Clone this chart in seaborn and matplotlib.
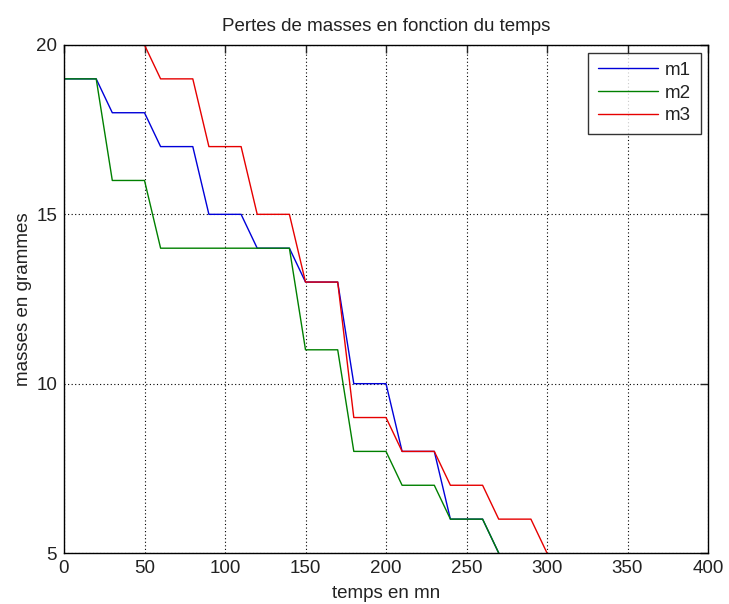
import numpy as np
import pandas as pd
import matplotlib
matplotlib.use("Agg")
import matplotlib.pyplot as plt
import seaborn as sns

# Data (time in minutes, mass in grams)
t_m1 = [0, 10, 20, 30, 40, 50, 60, 70, 80, 90, 100, 110, 120, 130, 140, 150, 160, 170, 180, 190, 200, 210, 220, 230, 240, 250, 260, 270]
m1 = [19, 19, 19, 18, 18, 18, 17, 17, 17, 15, 15, 15, 14, 14, 14, 13, 13, 13, 10, 10, 10, 8, 8, 8, 6, 6, 6, 5]
t_m2 = [0, 10, 20, 30, 40, 50, 60, 70, 80, 90, 100, 110, 120, 130, 140, 150, 160, 170, 180, 190, 200, 210, 220, 230, 240, 250, 260, 270]
m2 = [19, 19, 19, 16, 16, 16, 14, 14, 14, 14, 14, 14, 14, 14, 14, 11, 11, 11, 8, 8, 8, 7, 7, 7, 6, 6, 6, 5]
t_m3 = [50, 60, 70, 80, 90, 100, 110, 120, 130, 140, 150, 160, 170, 180, 190, 200, 210, 220, 230, 240, 250, 260, 270, 280, 290, 300]
m3 = [20, 19, 19, 19, 17, 17, 17, 15, 15, 15, 13, 13, 13, 9, 9, 9, 8, 8, 8, 7, 7, 7, 6, 6, 6, 5]

series_names = ["m1", "m2", "m3"]
xticks = [0, 50, 100, 150, 200, 250, 300, 350, 400]
yticks = [5, 10, 15, 20]

df = pd.concat([
    pd.DataFrame({"temps": t_m1, "masse": m1, "serie": "m1"}),
    pd.DataFrame({"temps": t_m2, "masse": m2, "serie": "m2"}),
    pd.DataFrame({"temps": t_m3, "masse": m3, "serie": "m3"}),
], ignore_index=True)

sns.set_style("white")
plt.rcParams["font.family"] = ["Liberation Sans", "DejaVu Sans"]

FS = 13.5

fig = plt.figure(figsize=(7.29, 6.04), dpi=100)
ax = fig.add_axes([64 / 729, 1 - 553 / 604, (708 - 64) / 729, (553 - 45) / 604])

palette = {"m1": (0, 0, 0.85), "m2": (0, 0.5, 0), "m3": (0.9, 0, 0)}
sns.lineplot(data=df, x="temps", y="masse", hue="serie", hue_order=series_names,
             palette=palette, linewidth=1.0, ax=ax, estimator=None, sort=False)

ax.set_xlim(0, 400)
ax.set_ylim(5, 20)
ax.set_xticks(xticks)
ax.set_yticks(yticks)
ax.set_xticklabels([str(v) for v in xticks])
ax.set_yticklabels([str(v) for v in yticks])
ax.grid(True, linestyle=(0, (1, 2.2)), color="black", linewidth=0.8)
ax.tick_params(direction="in", length=6, width=1, top=True, right=True,
               labelsize=FS, colors="#222222")
ax.tick_params(axis="x", pad=5)
ax.tick_params(axis="y", pad=5)
for s in ax.spines.values():
    s.set_visible(True)
    s.set_color("black")
    s.set_linewidth(1.0)

ax.set_xlabel("temps en mn", fontsize=FS, labelpad=6, color="#222222")
ax.set_ylabel("masses en grammes", fontsize=FS, labelpad=3, color="#222222")
ax.set_title("Pertes de masses en fonction du temps", fontsize=FS, pad=10, color="#222222")

leg = ax.legend(loc="upper right", fontsize=FS, frameon=True, fancybox=False,
                edgecolor="black", handlelength=3.2, borderaxespad=0.4,
                labelspacing=0.3, borderpad=0.5, handletextpad=0.4)
leg.get_frame().set_linewidth(1.0)
for txt in leg.get_texts():
    txt.set_color("#222222")

fig.savefig("out.png", dpi=100)
